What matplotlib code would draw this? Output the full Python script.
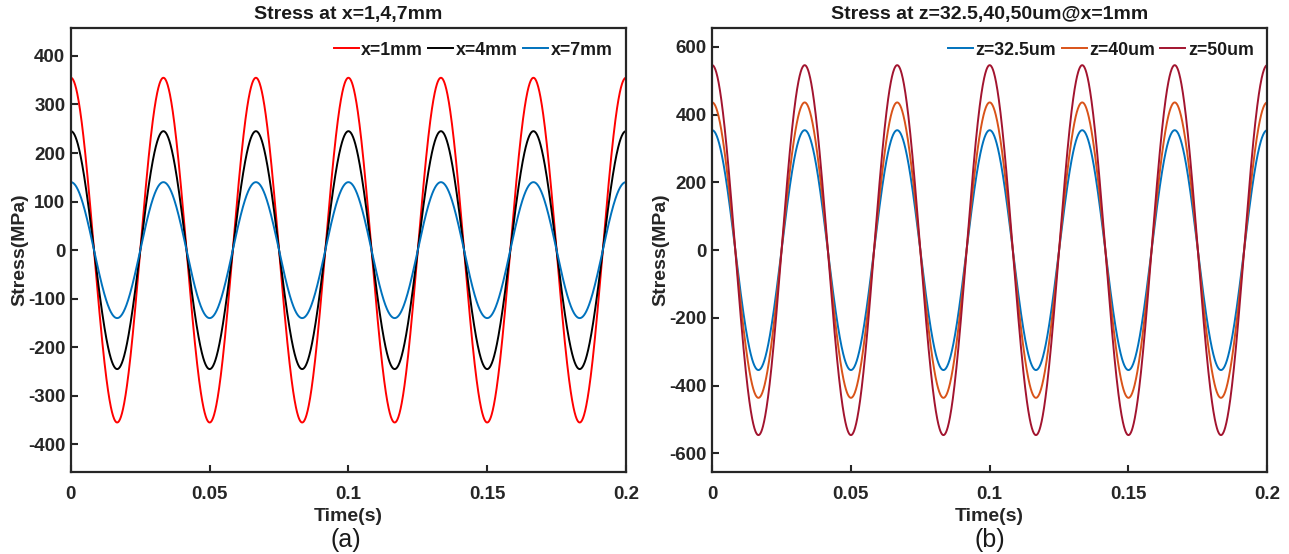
import numpy as np
import matplotlib
matplotlib.use("Agg")
import matplotlib.pyplot as plt

plt.rcParams['font.family'] = ['Liberation Sans', 'DejaVu Sans']
plt.rcParams['axes.unicode_minus'] = False

# ---- data ----
freq_hz = 30.0            # 6 full cycles over 0.2 s
t_end = 0.2
labels_a = ["x=1mm", "x=4mm", "x=7mm"]
amps_a = [355, 245, 140]          # MPa
colors_a = ["#FF0000", "#000000", "#0072BD"]

labels_b = ["z=32.5um", "z=40um", "z=50um"]
amps_b = [354, 436, 546]          # MPa
colors_b = ["#0072BD", "#D95319", "#A2142F"]

xticks = [0, 0.05, 0.1, 0.15, 0.2]
xticklabels = ["0", "0.05", "0.1", "0.15", "0.2"]
yticks_a = [-400, -300, -200, -100, 0, 100, 200, 300, 400]
yticks_b = [-600, -400, -200, 0, 200, 400, 600]

t = np.linspace(0, t_end, 2001)

fig = plt.figure(figsize=(12.89, 5.54), dpi=100)
ax1 = fig.add_axes([0.055, 0.148, 0.4306, 0.801])
ax2 = fig.add_axes([0.5525, 0.148, 0.4306, 0.801])

def style(ax, yticks, ylim, title):
    ax.set_xlim(0, t_end)
    ax.set_ylim(*ylim)
    ax.set_xticks(xticks)
    ax.set_xticklabels(xticklabels)
    ax.set_yticks(yticks)
    ax.tick_params(direction='in', length=5, width=1.5, labelsize=13.5,
                   colors='#262626', top=False, right=False)
    ax.tick_params(axis='x', pad=10)
    ax.tick_params(axis='y', pad=4)
    for lab in ax.get_xticklabels() + ax.get_yticklabels():
        lab.set_fontweight('bold')
    for s in ax.spines.values():
        s.set_linewidth(1.6)
        s.set_color('#262626')
    ax.set_xlabel("Time(s)", fontsize=14, fontweight='bold', color='#262626', labelpad=4)
    ax.set_ylabel("Stress(MPa)", fontsize=14, fontweight='bold', color='#262626', labelpad=0)
    ax.set_title(title, fontsize=14, fontweight='bold', color='#1a1a1a', pad=7)

for a, c, l in zip(amps_a, colors_a, labels_a):
    ax1.plot(t, a * np.cos(2 * np.pi * freq_hz * t), color=c, lw=1.4, label=l)
for a, c, l in zip(amps_b, colors_b, labels_b):
    ax2.plot(t, a * np.cos(2 * np.pi * freq_hz * t), color=c, lw=1.4, label=l)

style(ax1, yticks_a, (-457, 457), "Stress at x=1,4,7mm")
style(ax2, yticks_b, (-655, 655), "Stress at z=32.5,40,50um@x=1mm")

for ax in (ax1, ax2):
    leg = ax.legend(loc='upper right', ncol=3, frameon=False, fontsize=12.8,
                    handlelength=1.4, handletextpad=0.15, columnspacing=0.3,
                    borderaxespad=0.35)
    for txt in leg.get_texts():
        txt.set_fontweight('bold')
        txt.set_color('#1a1a1a')

fig.text(0.2685, 0.025, "(a)", fontsize=18, ha='center', va='center', color='#1a1a1a')
fig.text(0.768, 0.025, "(b)", fontsize=18, ha='center', va='center', color='#1a1a1a')

fig.savefig("out.png", dpi=100)
